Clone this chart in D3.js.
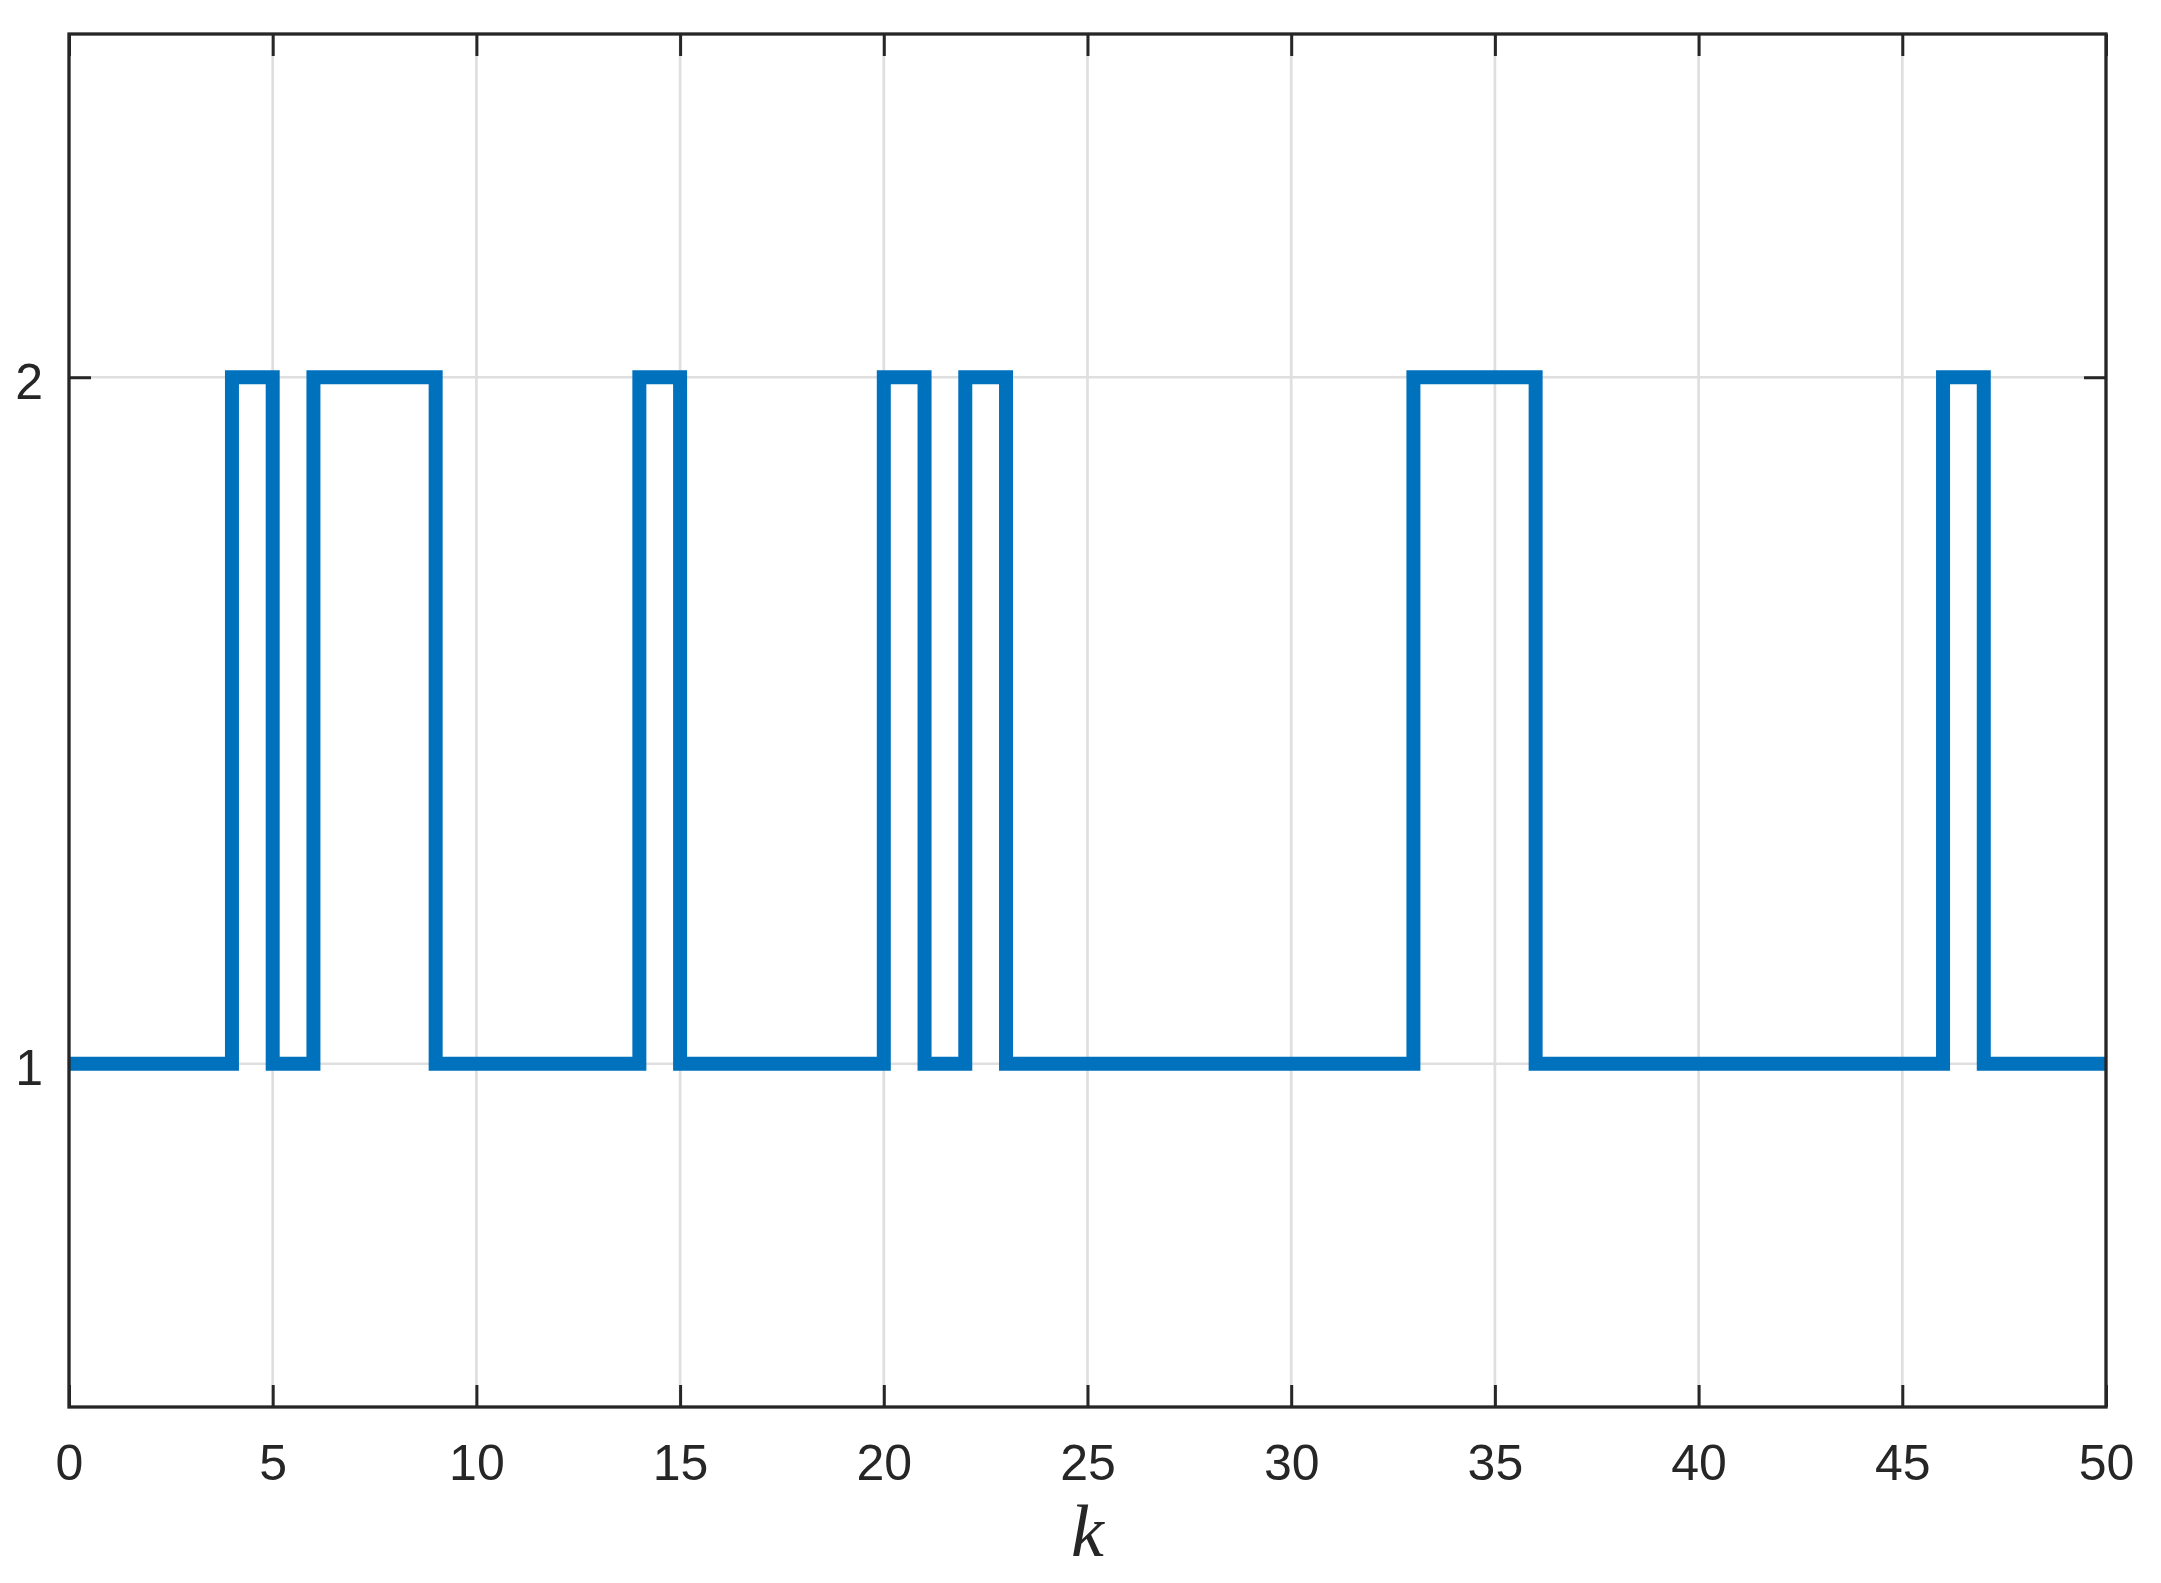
<!DOCTYPE html>
<meta charset="utf-8">
<script src="https://d3js.org/d3.v7.min.js"></script>
<style>
  body { margin: 0; background: #fff; }
</style>
<div id="chart"></div>
<script>

// mode value held from step k to k+1 (k = 0..50, the last one closes the stairs)
var steps = d3.range(0, 51)
var modes = [1,1,1,1,2,1,2,2,2,1,
             1,1,1,1,2,1,1,1,1,1,
             2,1,2,1,1,1,1,1,1,1,
             1,1,1,2,2,2,1,1,1,1,
             1,1,1,1,1,1,2,1,1,1,
             1]
var xTicks = [0,5,10,15,20,25,30,35,40,45,50]
var yTicks = [1,2]

var width = 2161,
    height = 1583
var margin = {left: 69, right: 55, top: 34, bottom: 176}
var w = width - margin.left - margin.right,
    h = height - margin.top - margin.bottom

var ink = "#262626"

var svg = d3.select("#chart")
  .append("svg")
    .attr("width", width)
    .attr("height", height)
  .append("g")
    .attr("transform", "translate(" + margin.left + "," + margin.top + ")")

var x = d3.scaleLinear().domain([0, 50]).range([0, w])
var y = d3.scaleLinear().domain([0.5, 2.5]).range([h, 0])

// grid
svg.append("g")
  .selectAll("line")
  .data(xTicks)
  .enter().append("line")
    .attr("x1", d => x(d)).attr("x2", d => x(d))
    .attr("y1", 0).attr("y2", h)
    .attr("stroke", "#dfdfdf")
    .attr("stroke-width", 2.7)
svg.append("g")
  .selectAll("line")
  .data(yTicks)
  .enter().append("line")
    .attr("x1", 0).attr("x2", w)
    .attr("y1", d => y(d)).attr("y2", d => y(d))
    .attr("stroke", "#dfdfdf")
    .attr("stroke-width", 2.7)

// axes, ticks pointing inward
function styleAxis(g) {
  g.select(".domain").remove()
  g.selectAll(".tick line").attr("stroke", ink).attr("stroke-width", 3)
  g.selectAll(".tick text")
    .attr("fill", ink)
    .style("font-family", "'Liberation Sans', Arial, sans-serif")
    .style("font-size", "50px")
}

svg.append("g")
  .attr("transform", "translate(0," + h + ")")
  .call(d3.axisBottom(x).tickValues(xTicks).tickFormat(d3.format("d")).tickSize(-22).tickPadding(37))
  .call(styleAxis)

svg.append("g")
  .call(d3.axisTop(x).tickValues(xTicks).tickSize(-22).tickFormat(""))
  .call(styleAxis)

svg.append("g")
  .call(d3.axisLeft(y).tickValues(yTicks).tickFormat(d3.format("d")).tickSize(-22).tickPadding(26))
  .call(styleAxis)
  .selectAll(".tick text").attr("dy", "0.42em")

svg.append("g")
  .attr("transform", "translate(" + w + ",0)")
  .call(d3.axisRight(y).tickValues(yTicks).tickSize(-22).tickFormat(""))
  .call(styleAxis)

// the stairs
var line = d3.line()
  .x((d, i) => x(steps[i]))
  .y(d => y(d))
  .curve(d3.curveStepAfter)

svg.append("path")
  .datum(modes)
  .attr("d", line)
  .attr("fill", "none")
  .attr("stroke", "#0072bd")
  .attr("stroke-width", 14)
  .attr("stroke-linejoin", "miter")
  .attr("stroke-linecap", "butt")

// box
svg.append("rect")
  .attr("x", 0).attr("y", 0)
  .attr("width", w).attr("height", h)
  .attr("fill", "none")
  .attr("stroke", ink)
  .attr("stroke-width", 3.3)

// x label
svg.append("text")
  .attr("x", w / 2)
  .attr("y", h + 149)
  .attr("text-anchor", "middle")
  .attr("fill", ink)
  .style("font-family", "'Liberation Serif', 'DejaVu Serif', serif")
  .style("font-style", "italic")
  .style("font-size", "74px")
  .text("k")

</script>
